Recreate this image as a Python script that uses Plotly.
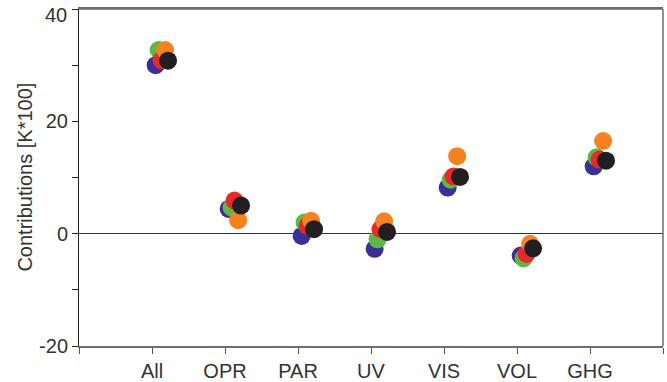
import plotly.graph_objects as go

# Contribution categories along the x axis
categories = ["All", "OPR", "PAR", "UV", "VIS", "VOL", "GHG"]

# Contributions [K*100] for each of the five runs
blue_vals = [30.0, 4.4, -0.4, -2.7, 8.2, -3.9, 12.0]
green_vals = [32.7, 4.7, 2.0, -1.0, 9.6, -4.4, 13.6]
red_vals = [30.9, 5.9, 1.4, 0.8, 10.2, -3.6, 13.2]
orange_vals = [32.7, 2.4, 2.3, 2.2, 13.8, -1.8, 16.5]
black_vals = [30.8, 5.0, 0.8, 0.3, 10.1, -2.6, 13.0]

y_ticks = [-20, 0, 20, 40]
y_title = "Contributions [K*100]"

# (values, colour, horizontal dodge) drawn back to front
series = [
    (blue_vals, "#3a2f96", 0.05),
    (green_vals, "#5cb946", 0.09),
    (red_vals, "#e62a2c", 0.13),
    (orange_vals, "#f58221", 0.18),
    (black_vals, "#231f20", 0.22),
]

fig = go.Figure()
for vals, color, dodge in series:
    fig.add_trace(go.Scatter(
        x=[i + 1 + dodge for i in range(len(categories))],
        y=vals,
        mode="markers",
        marker=dict(size=18, color=color, line=dict(width=0)),
        showlegend=False,
        hoverinfo="y",
    ))

axis_font = dict(family="Liberation Sans, Arial, sans-serif", size=20, color="#333333")

fig.update_layout(
    width=667,
    height=382,
    margin=dict(l=79, r=4, t=9, b=36),
    paper_bgcolor="white",
    plot_bgcolor="white",
    font=axis_font,
)

fig.update_xaxes(
    range=[0, len(categories) + 1],
    tickmode="array",
    tickvals=list(range(len(categories) + 2)),
    ticktext=[""] + categories + [""],
    ticks="outside",
    ticklen=6,
    tickcolor="#555555",
    showline=True,
    linecolor="#6e6e6e",
    linewidth=1.5,
    mirror=True,
    showgrid=False,
    zeroline=False,
    tickfont=axis_font,
    ticklabeloverflow="allow",
    automargin=False,
)

# the top label sits a little below its tick so it stays inside the page
top_tick = y_ticks[-1]
fig.update_yaxes(
    range=[y_ticks[0], top_tick],
    tickmode="array",
    tickvals=y_ticks,
    ticktext=[str(v) for v in y_ticks[:-1]] + [""],
    ticks="outside",
    ticklen=6,
    tickcolor="#222222",
    minor=dict(ticks="outside", dtick=10, ticklen=6, tickcolor="#222222"),
    showline=True,
    linecolor="#222222",
    linewidth=1,
    mirror=False,
    showgrid=False,
    zeroline=True,
    zerolinecolor="#333333",
    zerolinewidth=1,
    tickfont=axis_font,
    ticklabeloverflow="allow",
    automargin=False,
)

fig.add_annotation(
    x=0, xref="paper", y=top_tick, yref="y",
    text=str(top_tick), showarrow=False,
    xanchor="right", yanchor="middle",
    xshift=-10, yshift=-6, font=axis_font,
)

fig.add_annotation(
    x=-0.094, xref="paper", y=0.5, yref="paper",
    text=y_title, textangle=-90, showarrow=False,
    xanchor="center", yanchor="middle", font=axis_font,
)

# top and right frame lines
fig.add_shape(type="line", xref="paper", yref="paper", x0=0, x1=1, y0=1, y1=1,
              line=dict(color="#6e6e6e", width=1.5))
fig.add_shape(type="line", xref="paper", yref="paper", x0=1, x1=1, y0=0, y1=1,
              line=dict(color="#6e6e6e", width=1.5))

fig.write_html("out.html")
